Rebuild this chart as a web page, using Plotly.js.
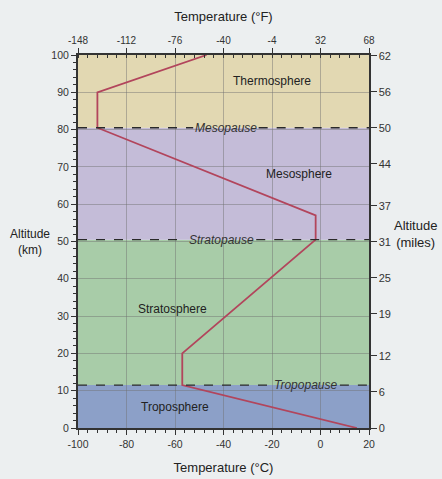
<!DOCTYPE html>
<html><head><meta charset="utf-8">
<script src="https://cdn.plot.ly/plotly-3.0.1.min.js"></script>
<style>html,body{margin:0;padding:0;background:#eceff0;}</style>
</head><body><div id="chart" style="width:442px;height:479px;"></div>
<script>
// Temperature profile (°C vs km)
const tempC = [15, -57, -57, -2, -2, -92, -92, -47];
const altKm = [0, 11.5, 20, 50.5, 57, 80.5, 90, 100];

// Layers
const layerNames = ["Troposphere", "Stratosphere", "Mesosphere", "Thermosphere"];
const layerBottom = [0, 11.5, 50.5, 80.5];
const layerTop = [11.5, 50.5, 80.5, 100];
const layerColors = ["#8ca0c8", "#a8cca8", "#c4bcd8", "#e2d8b2"];
const layerLabelX = [-60, -61, -9, -20];
const layerLabelY = [5.5, 32, 68, 93];

// Pauses
const pauseNames = ["Tropopause", "Stratopause", "Mesopause"];
const pauseAlt = [11.5, 50.5, 80.5];
const pauseLabelX = [-6, -41, -39];
const pauseHalfW = [14, 14.5, 13.5];

// Axis ticks
const cTicks = [-100, -80, -60, -40, -20, 0, 20];
const fTicks = [-148, -112, -76, -40, -4, 32, 68];
const kmTicks = [0, 10, 20, 30, 40, 50, 60, 70, 80, 90, 100];
const mileTicks = [0, 6, 12, 19, 25, 31, 37, 44, 50, 56, 62];

const xMin = -100, xMax = 20;
const shapes = [];
layerNames.forEach((n, i) => {
  shapes.push({type: 'rect', xref: 'x', yref: 'y', x0: xMin, x1: xMax,
    y0: layerBottom[i], y1: layerTop[i], fillcolor: layerColors[i], line: {width: 0}, layer: 'below'});
});
pauseNames.forEach((n, i) => {
  const dash = {color: '#2a2a2a', width: 1.4, dash: 'dash'};
  shapes.push({type: 'line', xref: 'x', yref: 'y', x0: xMin, x1: pauseLabelX[i] - pauseHalfW[i],
    y0: pauseAlt[i], y1: pauseAlt[i], line: dash});
  shapes.push({type: 'line', xref: 'x', yref: 'y', x0: pauseLabelX[i] + pauseHalfW[i], x1: xMax,
    y0: pauseAlt[i], y1: pauseAlt[i], line: dash});
});

const annotations = [];
layerNames.forEach((n, i) => {
  annotations.push({x: layerLabelX[i], y: layerLabelY[i], xref: 'x', yref: 'y', text: n,
    showarrow: false, font: {size: 12, color: '#222'}});
});
pauseNames.forEach((n, i) => {
  annotations.push({x: pauseLabelX[i], y: pauseAlt[i], xref: 'x', yref: 'y', text: '<i>' + n + '</i>',
    showarrow: false, font: {size: 12, color: '#333'}});
});
annotations.push({x: -0.165, y: 0.5, xref: 'paper', yref: 'paper', xanchor: 'center', yanchor: 'middle',
  text: 'Altitude<br>(km)', showarrow: false, font: {size: 12, color: '#222'}, align: 'center'});
annotations.push({x: 1.16, y: 0.52, xref: 'paper', yref: 'paper', xanchor: 'center', yanchor: 'middle',
  text: 'Altitude<br>(miles)', showarrow: false, font: {size: 13, color: '#222'}, align: 'center'});

const traces = [
  {x: tempC, y: altKm, type: 'scatter', mode: 'lines', line: {color: '#b2455c', width: 1.8},
   hoverinfo: 'skip', showlegend: false},
  {x: [xMin, xMax], y: [0, 100], xaxis: 'x2', yaxis: 'y2', type: 'scatter', mode: 'markers',
   marker: {opacity: 0}, hoverinfo: 'skip', showlegend: false}
];

const axFont = {size: 10.5, color: '#333'};
const layout = {
  width: 442, height: 479,
  margin: {l: 78, r: 73, t: 55, b: 51},
  paper_bgcolor: '#eceff0', plot_bgcolor: '#eceff0',
  font: {family: 'Liberation Sans, Arial, sans-serif', color: '#222'},
  showlegend: false,
  xaxis: {range: [xMin, xMax], tickvals: cTicks, ticktext: cTicks.map(String), ticks: 'outside',
    ticklen: 5, tickcolor: '#333', tickfont: axFont, showgrid: true, gridcolor: 'rgba(110,110,110,0.45)', gridwidth: 1,
    showline: true, linecolor: '#333', linewidth: 2, zeroline: false,
    minor: {dtick: 4, ticks: 'outside', ticklen: 3, tickcolor: '#333', showgrid: false},
    title: {text: 'Temperature (°C)', font: {size: 13, color: '#222'}, standoff: 14}},
  xaxis2: {range: [xMin, xMax], overlaying: 'x', side: 'top', tickvals: cTicks, ticktext: fTicks.map(String),
    ticks: 'outside', ticklen: 5, tickcolor: '#333', tickfont: {size: 10, color: '#333'}, showgrid: false,
    showline: true, linecolor: '#333', linewidth: 2, zeroline: false,
    minor: {dtick: 4, ticks: 'inside', ticklen: 3, tickcolor: '#333', showgrid: false},
    title: {text: 'Temperature (°F)', font: {size: 13, color: '#222'}, standoff: 10}},
  yaxis: {range: [0, 100], tickvals: kmTicks, ticktext: kmTicks.map(String), ticks: 'outside', ticklen: 5,
    tickcolor: '#333', tickfont: axFont, showgrid: true, gridcolor: 'rgba(110,110,110,0.45)', gridwidth: 1,
    showline: true, linecolor: '#333', linewidth: 2, zeroline: false,
    minor: {dtick: 2, ticks: 'outside', ticklen: 3, tickcolor: '#333', showgrid: false}},
  yaxis2: {range: [0, 100], overlaying: 'y', side: 'right', tickvals: mileTicks.map(m => m * 1.609344),
    ticktext: mileTicks.map(String), ticks: 'outside', ticklen: 6, tickcolor: '#333', tickfont: {size: 11, color: '#333'},
    showgrid: false, showline: true, linecolor: '#333', linewidth: 1.5, zeroline: false},
  shapes: shapes,
  annotations: annotations
};
Plotly.newPlot('chart', traces, layout, {displayModeBar: false, staticPlot: true});
</script></body></html>
